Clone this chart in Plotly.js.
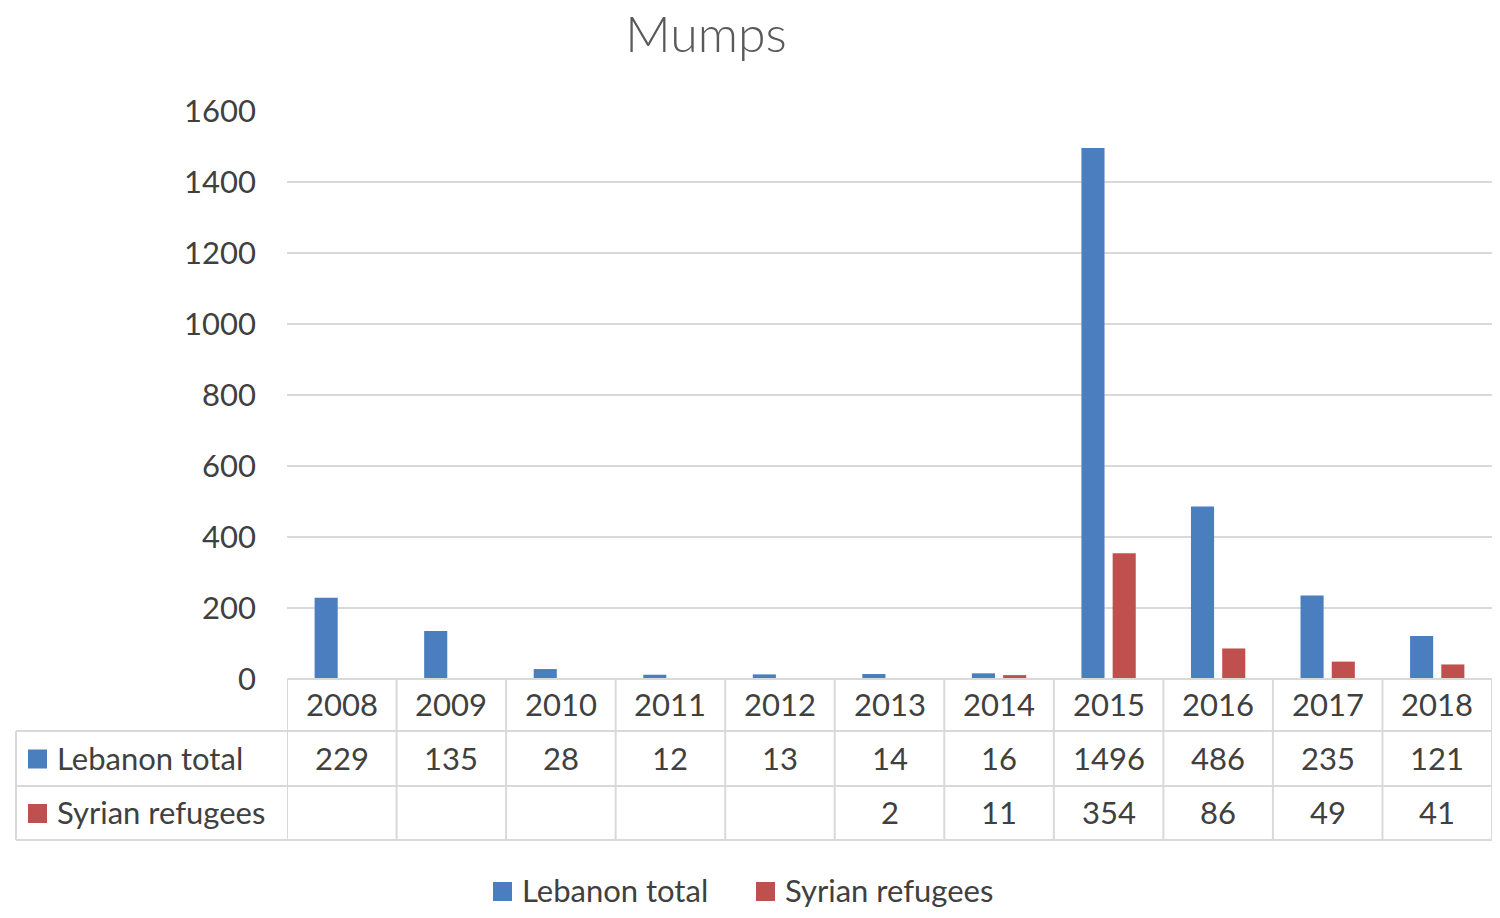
<!DOCTYPE html>
<html>
<head>
<meta charset="utf-8">
<script src="https://cdn.plot.ly/plotly-3.0.1.min.js"></script>
<style>
  html, body { margin: 0; padding: 0; background: #fff; }
  #plot { width: 1500px; height: 918px; }
</style>
</head>
<body>
<div id="plot"></div>
<script>
// Data
const years = ['2008', '2009', '2010', '2011', '2012', '2013', '2014', '2015', '2016', '2017', '2018'];
const lebanonTotal = [229, 135, 28, 12, 13, 14, 16, 1496, 486, 235, 121];
const syrianRefugees = [null, null, null, null, null, 2, 11, 354, 86, 49, 41];
const seriesNames = ['Lebanon total', 'Syrian refugees'];
const seriesColors = ['#4a7ebf', '#c0504d'];

// Page geometry (pixels)
const W = 1500, H = 918;
const plotLeft = 287, plotRight = 1492, plotTop = 111, plotBottom = 679;
const rowLines = [679, 731, 786, 840];
const tableLeft = 16;
const gridColor = '#d9d9d9';
const textColor = '#404040';
const fontFamily = 'Lato, "Open Sans", sans-serif';

const plotH = plotBottom - plotTop;
const plotW = plotRight - plotLeft;
// pixel -> paper coords
function py(y) { return (plotBottom - y) / plotH; }
function px(x) { return (x - plotLeft) / plotW; }

const traces = [
    {
        x: years, y: lebanonTotal, type: 'bar', name: seriesNames[0],
        marker: { color: seriesColors[0] },
        hoverinfo: 'x+y+name'
    },
    {
        x: years, y: syrianRefugees, type: 'bar', name: seriesNames[1],
        marker: { color: seriesColors[1] },
        hoverinfo: 'x+y+name'
    }
];

// Data table below the plot
const shapes = [];
const annotations = [];

// horizontal lines
rowLines.forEach(function (y, i) {
    shapes.push({
        type: 'line', xref: 'paper', yref: 'paper',
        x0: i === 0 ? 0 : px(tableLeft), x1: 1, y0: py(y), y1: py(y),
        line: { color: gridColor, width: 2 }
    });
});
// vertical lines at category edges
for (let i = 0; i <= years.length; i++) {
    shapes.push({
        type: 'line', xref: 'x', yref: 'paper',
        x0: i - 0.5, x1: i - 0.5, y0: py(rowLines[0]), y1: py(rowLines[3]),
        line: { color: gridColor, width: 2 }
    });
}
shapes.push({
    type: 'line', xref: 'paper', yref: 'paper',
    x0: px(tableLeft), x1: px(tableLeft), y0: py(rowLines[1]), y1: py(rowLines[3]),
    line: { color: gridColor, width: 2 }
});

const cellFont = { family: fontFamily, size: 31, color: textColor };
const rowMid = [0, 1, 2].map(function (i) { return (rowLines[i] + rowLines[i + 1]) / 2 - 1; });

function cell(i, y, text) {
    annotations.push({ x: i, y: py(y), xref: 'x', yref: 'paper', text: text,
        xanchor: 'center', yanchor: 'middle', showarrow: false, font: cellFont });
}

years.forEach(function (yr, i) {
    cell(i, rowMid[0], yr);
    if (lebanonTotal[i] !== null) cell(i, rowMid[1], String(lebanonTotal[i]));
    if (syrianRefugees[i] !== null) cell(i, rowMid[2], String(syrianRefugees[i]));
});

// colour key + label helper (pixel positions)
function key(x, yMid, i) {
    shapes.push({
        type: 'rect', xref: 'paper', yref: 'paper',
        x0: px(x), x1: px(x + 19), y0: py(yMid + 11), y1: py(yMid - 8),
        fillcolor: seriesColors[i], line: { width: 0 }
    });
    annotations.push({
        x: px(x + 27), y: py(yMid), xref: 'paper', yref: 'paper',
        xanchor: 'left', yanchor: 'middle',
        text: seriesNames[i], showarrow: false, font: cellFont
    });
}

// row headers
key(28, rowMid[1], 0);
key(28, rowMid[2], 1);
// legend below the table
key(493, 890, 0);
key(756, 890, 1);

const layout = {
    width: W, height: H,
    title: {
        text: 'Mumps',
        font: { family: fontFamily, size: 50, color: '#595959', weight: 300 },
        x: 706 / W, xanchor: 'center', y: 1 - 34 / H, yanchor: 'middle'
    },
    margin: { l: plotLeft, r: W - plotRight, t: plotTop, b: H - plotBottom, pad: 0 },
    barmode: 'group',
    bargap: 0.43,
    bargroupgap: 0.26,
    xaxis: {
        type: 'category',
        range: [-0.5, years.length - 0.5],
        showticklabels: false,
        ticks: '',
        showgrid: false,
        zeroline: false,
        showline: false,
        fixedrange: true
    },
    yaxis: {
        range: [0, 1600],
        dtick: 200,
        showgrid: true,
        gridcolor: gridColor,
        gridwidth: 2,
        zeroline: false,
        showline: false,
        ticks: '',
        ticklabelstandoff: 30,
        tickfont: { family: fontFamily, size: 31, color: textColor },
        fixedrange: true
    },
    showlegend: false,
    shapes: shapes,
    annotations: annotations,
    paper_bgcolor: '#ffffff',
    plot_bgcolor: '#ffffff'
};

Plotly.newPlot('plot', traces, layout, { displayModeBar: false });
</script>
</body>
</html>
